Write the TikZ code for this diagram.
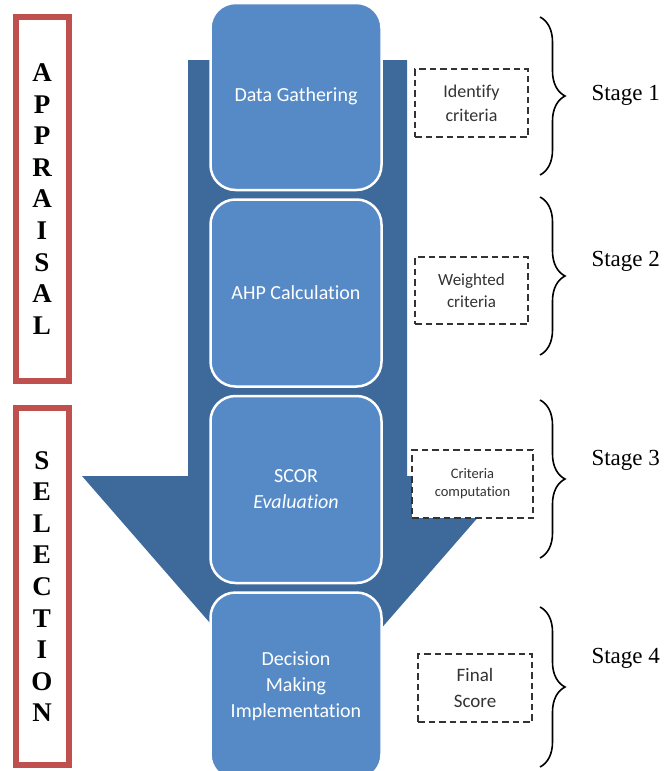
\documentclass[tikz,border=0pt]{standalone}
\usepackage{fontspec}
\setmainfont{Liberation Serif}
\newfontfamily\calibrifont[Ligatures=NoCommon]{Carlito}
\usetikzlibrary{positioning, decorations.pathreplacing}
\definecolor{stepblue}{HTML}{568AC7}
\definecolor{arrowblue}{HTML}{3E699B}
\definecolor{phasered}{HTML}{C0504D}
\tikzset{
  stepbox/.style={rectangle,rounded corners=25pt,draw=white,line width=2.5pt,fill=stepblue,text=white,minimum width=171pt,minimum height=187pt,align=center,font=\calibrifont\fontsize{20}{26}\selectfont},
  notebox/.style={rectangle,draw=black!80,dash pattern=on 6.5pt off 4pt,line width=2.2pt,fill=white,text=black!80,align=center,inner sep=0pt},
  phasebox/.style={rectangle,draw=phasered,line width=6pt,minimum width=53pt,align=center,font=\bfseries\fontsize{27}{31.6}\selectfont},
  stagebrace/.style={decorate,decoration={brace,amplitude=25pt},line width=1.6pt},
  stagelabel/.style={anchor=west,font=\fontsize{23}{28}\selectfont},
}

\begin{document}
\begin{tikzpicture}[x=1pt,y=-1pt]
	    \useasboundingbox (0,0) rectangle (669,771);
	    % big arrow behind the steps
	    \fill[arrowblue] (188,60) -- (407,60) -- (407,476) -- (514,476) -- (298,724) -- (82,476) -- (188,476) -- cycle;
	    \node[stepbox] (gather) at (296,96.5) {Data Gathering};
	    \node[stepbox,below=7pt of gather] (ahp) {AHP Calculation};
	    \node[stepbox,below=7pt of ahp] (scor) {SCOR\\\textit{Evaluation}};
	    \node[stepbox,below=7pt of scor] (decide) {Decision\\Making\\Implementation};
	    % dashed notes
	    \node[notebox,minimum width=113pt,minimum height=68pt,font=\calibrifont\fontsize{18}{24}\selectfont] (identify) at (471.5,103) {Identify\\criteria};
	    \node[notebox,minimum width=113pt,minimum height=67pt,font=\calibrifont\fontsize{17}{22}\selectfont] (weighted) at (471.5,290.5) {Weighted\\criteria};
	    \node[notebox,minimum width=121pt,minimum height=68pt,font=\calibrifont\fontsize{14.5}{18}\selectfont] (compute) at (472.5,484) {Criteria\\computation};
	    \node[notebox,minimum width=114pt,minimum height=68pt,font=\calibrifont\fontsize{19}{26}\selectfont] (final) at (475,688) {Final\\Score};
	    % phases
	    \node[phasebox,minimum height=364pt] (appraisal) at (42,199) {A\\P\\P\\R\\A\\I\\S\\A\\L};
	    \node[phasebox,minimum height=357.5pt] (selection) at (42,586.5) {S\\E\\L\\E\\C\\T\\I\\O\\N};
	    % stages
	    \coordinate (b1top) at (540,17);
	    \coordinate (b1bot) at (540,175);
	    \coordinate (b2top) at (540,197);
	    \coordinate (b2bot) at (540,355);
	    \coordinate (b3top) at (540,400);
	    \coordinate (b3bot) at (540,558);
	    \coordinate (b4top) at (540,607);
	    \coordinate (b4bot) at (540,767);
	    \draw[stagebrace] (b1top) -- (b1bot);
	    \draw[stagebrace] (b2top) -- (b2bot);
	    \draw[stagebrace] (b3top) -- (b3bot);
	    \draw[stagebrace] (b4top) -- (b4bot);
	    \node[stagelabel] (stage1) at (588,95) {Stage 1};
	    \node[stagelabel] (stage2) at (588,261) {Stage 2};
	    \node[stagelabel] (stage3) at (588,460) {Stage 3};
	    \node[stagelabel] (stage4) at (588,658) {Stage 4};
	\end{tikzpicture}
\end{document}
